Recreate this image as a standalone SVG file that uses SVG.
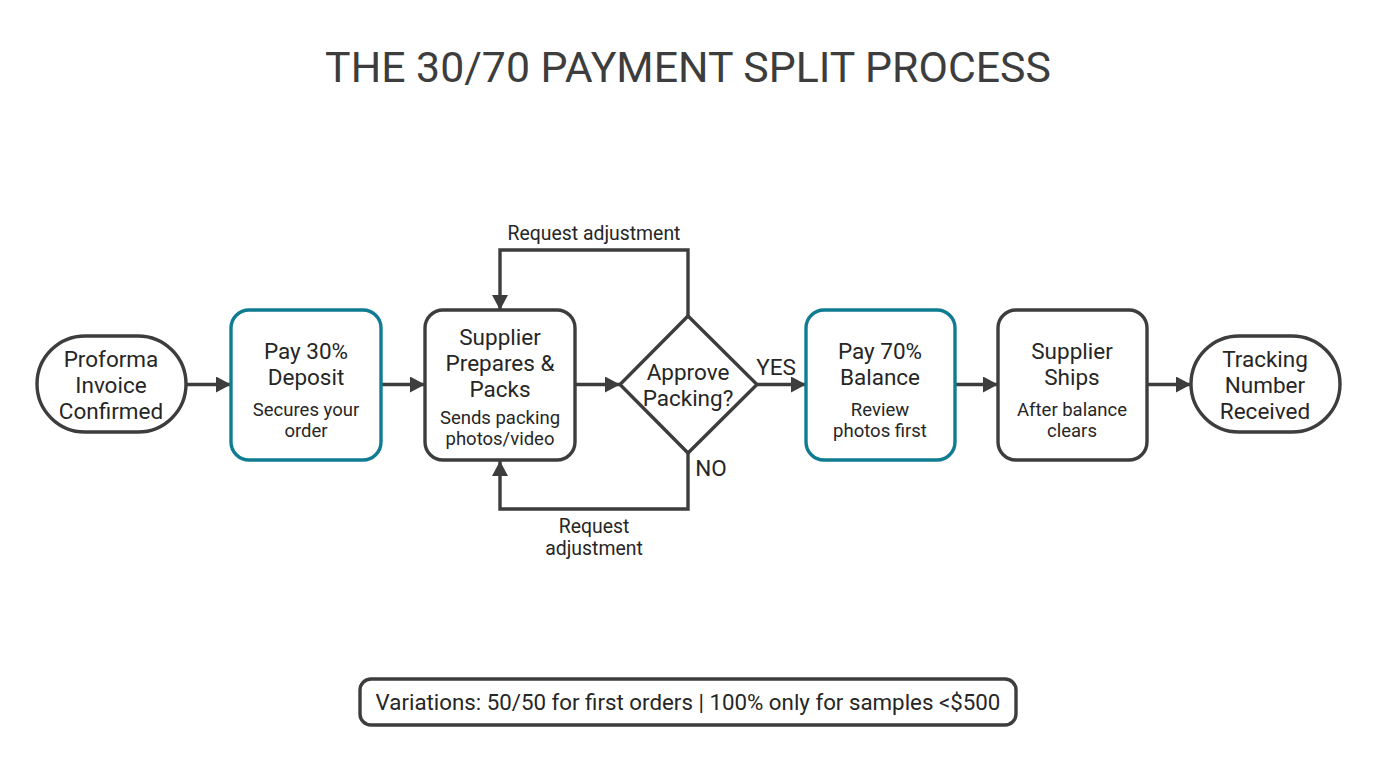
<svg xmlns="http://www.w3.org/2000/svg" width="1376" height="768" viewBox="0 0 1376 768">
<style>
text{font-family:Roboto,"Liberation Sans",sans-serif;fill:#262626;text-anchor:middle}
.t{font-size:22.5px}.s{font-size:18.5px}.l{font-size:19.4px}
.n{fill:#fff;stroke:#3d3d3d;stroke-width:3.4}
.b{fill:#fff;stroke:#0f7c92;stroke-width:3.4}
.c{fill:none;stroke:#3d3d3d;stroke-width:3.4}
</style>
<defs><marker id="a" markerUnits="userSpaceOnUse" markerWidth="16" markerHeight="16" refX="15" refY="8" orient="auto"><path d="M0 0L15 8L0 16Z" fill="#3d3d3d"/></marker></defs>
<rect width="1376" height="768" fill="#fff"/>
<text x="688" y="82" font-size="42.8" style="fill:#3d3d3d">THE 30/70 PAYMENT SPLIT PROCESS</text>
<g id="connectors">
<path class="c" marker-end="url(#a)" d="M186 384.5H231"/>
<path class="c" marker-end="url(#a)" d="M381 384.5H425"/>
<path class="c" marker-end="url(#a)" d="M575 384.5H620"/>
<path class="c" marker-end="url(#a)" d="M757 384.5H806"/>
<path class="c" marker-end="url(#a)" d="M955 384.5H998"/>
<path class="c" marker-end="url(#a)" d="M1147 384.5H1191"/>
<path class="c" marker-end="url(#a)" d="M688 316V250H500V310"/>
<path class="c" marker-end="url(#a)" d="M688 452V509H500V461"/>
<text class="l" x="594" y="240">Request adjustment</text>
<text class="l" x="776" y="374.500" style="font-size:22.500px">YES</text>
<text class="l" x="711" y="476" style="font-size:22.500px">NO</text>
<text class="l" x="594" y="533">Request</text>
<text class="l" x="594" y="555">adjustment</text>
</g>
<g id="n1"><rect class="n" x="37" y="336" width="149" height="96" rx="48"/><text class="t" x="111" y="367">Proforma</text><text class="t" x="111" y="393">Invoice</text><text class="t" x="111" y="419">Confirmed</text></g>
<g id="n2"><rect class="b" x="231" y="310" width="150" height="150" rx="18"/><text class="t" x="306" y="359">Pay 30%</text><text class="t" x="306" y="385">Deposit</text><text class="s" x="306" y="416">Secures your</text><text class="s" x="306" y="437">order</text></g>
<g id="n3"><rect class="n" x="425" y="310" width="150" height="150" rx="18"/><text class="t" x="500" y="345">Supplier</text><text class="t" x="500" y="371">Prepares &amp;</text><text class="t" x="500" y="397">Packs</text><text class="s" x="500" y="424">Sends packing</text><text class="s" x="500" y="445">photos/video</text></g>
<g id="n4"><path class="n" d="M688 316L757 384.500L688 453L620 384.500Z"/><text class="t" x="688" y="380">Approve</text><text class="t" x="688" y="406">Packing?</text></g>
<g id="n5"><rect class="b" x="806" y="310" width="149" height="150" rx="18"/><text class="t" x="880" y="359">Pay 70%</text><text class="t" x="880" y="385">Balance</text><text class="s" x="880" y="416">Review</text><text class="s" x="880" y="437">photos first</text></g>
<g id="n6"><rect class="n" x="998" y="310" width="149" height="150" rx="18"/><text class="t" x="1072" y="359">Supplier</text><text class="t" x="1072" y="385">Ships</text><text class="s" x="1072" y="416">After balance</text><text class="s" x="1072" y="437">clears</text></g>
<g id="n7"><rect class="n" x="1191" y="336" width="149" height="96" rx="48"/><text class="t" x="1265" y="367">Tracking</text><text class="t" x="1265" y="393">Number</text><text class="t" x="1265" y="419">Received</text></g>
<g id="note"><rect class="n" x="360" y="679" width="656" height="46" rx="11"/><text x="688" y="710" font-size="22.3">Variations: 50/50 for first orders | 100% only for samples &lt;$500</text></g>
</svg>
